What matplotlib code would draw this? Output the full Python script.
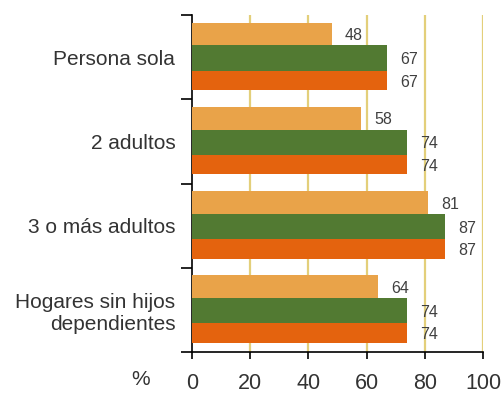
import numpy as np
import matplotlib
matplotlib.use('Agg')
import matplotlib.pyplot as plt

categorias = ['Persona sola', '2 adultos', '3 o más adultos', 'Hogares sin hijos\ndependientes']
serie_1 = [48, 58, 81, 64]
serie_2 = [67, 74, 87, 74]
serie_3 = [67, 74, 87, 74]
ticks_x = [0, 20, 40, 60, 80, 100]

colores = ['#E9A349', '#527A32', '#E4630E']
desplaz = [-0.275, 0.01, 0.275]
alturas = [0.27, 0.30, 0.23]

plt.rcParams['font.family'] = ['Liberation Sans', 'DejaVu Sans']

fig = plt.figure(figsize=(5.02, 3.94), dpi=100)
ax = fig.add_axes([0.3825, 0.1066, 0.5797, 0.855])

y = np.arange(len(categorias))
for serie, col, d, h in zip([serie_1, serie_2, serie_3], colores, desplaz, alturas):
    ax.barh(y + d, serie, height=h, color=col, zorder=3)
    for yi, v in zip(y, serie):
        ax.text(v + 4.5, yi + d + 0.02, str(v), va='center', ha='left',
                fontsize=11.5, color='#404040', zorder=4)

ax.set_xlim(0, 100)
ax.set_ylim(len(categorias) - 0.5, -0.5)
ax.set_xticks(ticks_x)
ax.set_xticklabels([str(t) for t in ticks_x], fontsize=15.5, color='#333333')
for t in ticks_x[1:]:
    ax.axvline(t, color='#E3CF7A', lw=1.6, zorder=1)

ax.set_yticks(np.arange(len(categorias) + 1) - 0.5)
ax.set_yticklabels([])
ax.set_yticks(y, minor=True)
ax.set_yticklabels(categorias, minor=True, fontsize=15, color='#333333')
ax.tick_params(axis='y', which='minor', length=0, pad=12)
ax.tick_params(axis='y', which='major', length=8, width=1.2)
ax.tick_params(axis='x', length=5, width=1.2, pad=10)

for s in ['top', 'right']:
    ax.spines[s].set_visible(False)
ax.spines['left'].set_linewidth(1.2)
ax.spines['bottom'].set_linewidth(1.2)

fig.text(0.262, 0.022, '%', fontsize=15, color='#333333')

fig.savefig('out.png', dpi=100)
